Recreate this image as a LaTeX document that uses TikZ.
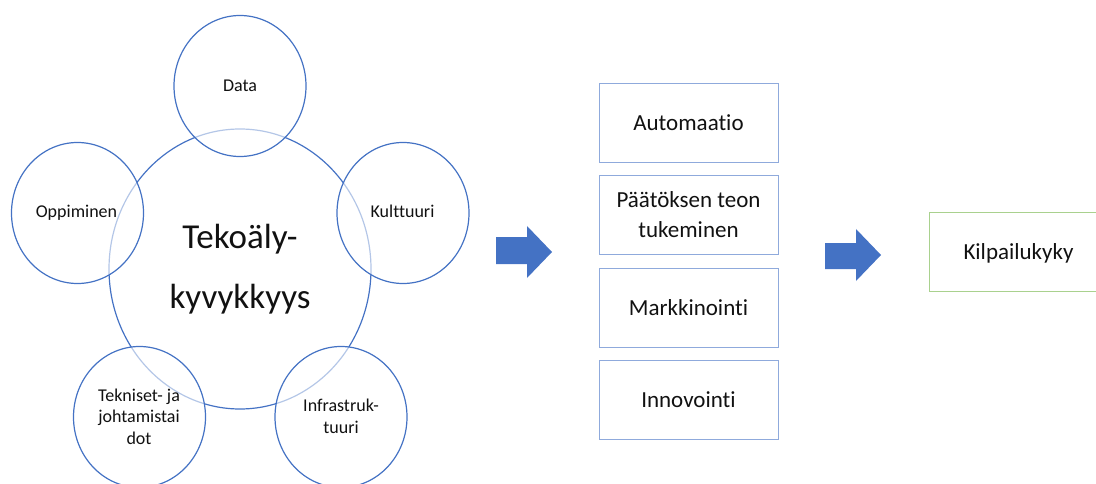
\documentclass[tikz,border=0pt]{standalone}
\usepackage{fontspec}
\setmainfont{Carlito}[Ligatures=NoCommon]
\usetikzlibrary{shapes.geometric}
\definecolor{ringblue}{HTML}{4472C4}
\definecolor{boxblue}{HTML}{8FAADC}
\definecolor{boxgreen}{HTML}{A9D18E}
\definecolor{inkgray}{HTML}{111111}
\tikzset{
  bigring/.style={ellipse, draw=ringblue, line width=1.2pt, minimum width=262pt, minimum height=280pt, inner sep=0pt},
  ring/.style={ellipse, draw=ringblue, line width=1.2pt, fill=white, fill opacity=0.6, draw opacity=1,
               minimum width=132pt, minimum height=141pt, inner sep=0pt},
  ringtext/.style={anchor=base, align=center, text=inkgray, inner sep=0pt,
                   font=\fontsize{18}{21.5}\selectfont},
  bigtext/.style={anchor=base, align=center, text=inkgray, inner sep=0pt,
                  font=\fontsize{35}{60}\selectfont},
  outbox/.style={rectangle, draw=boxblue, line width=0.9pt, minimum width=179pt, minimum height=79pt,
                 align=center, text=inkgray, inner sep=0pt, text depth=0pt,
                 font=\fontsize{23}{30}\selectfont},
  goalbox/.style={outbox, draw=boxgreen},
  flowarrow/.style={fill=ringblue, draw=none}
}
\begin{document}
\begin{tikzpicture}[x=1pt, y=-1pt]
  \useasboundingbox (0,0) rectangle (1096,484);
  \clip (0,0) rectangle (1096,484);

  % central capability ring and its five surrounding factors
  \node[bigring] (core) at (240,269) {};
  \node[ring] (data)  at (240,86)  {};
  \node[ring] (learn) at (77.5,213) {};
  \node[ring] (cult)  at (403,213) {};
  \node[ring] (tech)  at (139.5,417) {};
  \node[ring] (infra) at (341,417) {};

  % multi-line labels are anchored at the baseline of their last line
  \node[bigtext]  (coretext)  at (240,308) {Tekoäly-\\kyvykkyys};
  \node[ringtext] (datatext)  at (240,92)  {Data};
  \node[ringtext] (learntext) at (76.5,218) {Oppiminen};
  \node[ringtext] (culttext)  at (402.5,218) {Kulttuuri};
  \node[ringtext] (techtext)  at (139,444) {Tekniset- ja\\johtamistai\\dot};
  \node[ringtext] (infratext) at (341,433) {Infrastruk-\\tuuri};

  % block arrows between the stages
  \path[flowarrow] (496,237) -- (527,237) -- (527,226) -- (552,252) -- (527,278) -- (527,264) -- (496,264) -- cycle;
  \path[flowarrow] (825,243) -- (856,243) -- (856,229) -- (881,255) -- (856,281) -- (856,269) -- (825,269) -- cycle;

  % application areas
  \node[outbox] (auto)  at (688.5,123)   {Automaatio};
  \node[outbox] (dec)   at (688.5,214.5) {Päätöksen teon\\tukeminen};
  \node[outbox] (mark)  at (688.5,308)   {Markkinointi};
  \node[outbox] (innov) at (688.5,399.5) {Innovointi};

  % outcome
  \node[goalbox] (comp) at (1018.5,252) {Kilpailukyky};
\end{tikzpicture}
\end{document}
